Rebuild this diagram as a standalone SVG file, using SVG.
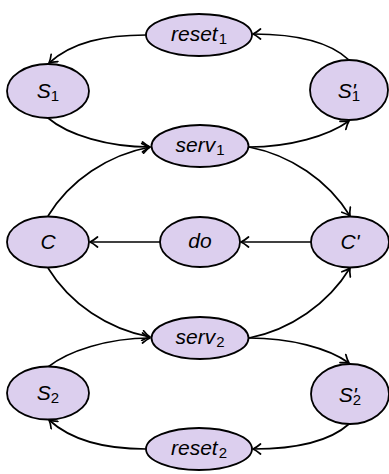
<svg xmlns="http://www.w3.org/2000/svg" width="389" height="474" viewBox="0 0 389 474">
<defs>
<style>
.n{fill:#dccfee;stroke:#000;stroke-width:1.8}
.e{fill:none;stroke:#000;stroke-width:1.7;marker-end:url(#arr)}
.t{font-family:"Liberation Sans","DejaVu Sans",sans-serif;font-style:italic;font-size:21px;text-anchor:middle;fill:#000}
.s{font-style:normal;font-size:15px}
</style>
<marker id="arr" viewBox="-9 -6 11 12" refX="0" refY="0" markerWidth="11" markerHeight="12" markerUnits="userSpaceOnUse" orient="auto">
<path d="M-7.5,-5 Q-3,-1.2 0,0 Q-3,1.2 -7.5,5" fill="none" stroke="#000" stroke-width="1.7" stroke-linecap="round" stroke-linejoin="round"/>
</marker>
</defs>
<g id="connectors">
<path class="e" d="M146,35 C105,35 72,42 49,63"/>
<path class="e" d="M349,60 C330,42 298,34 253,34"/>
<path class="e" d="M48,118 C68,135 108,147 150,147"/>
<path class="e" d="M249,147 C290,147 328,136 349,121"/>
<path class="e" d="M48,216 C70,180 108,155 150,147"/>
<path class="e" d="M249,147 C290,155 328,180 350,216"/>
<path class="e" d="M311,242 L241,242"/>
<path class="e" d="M160,242 L90,242"/>
<path class="e" d="M48,268 C70,304 108,329 150,337"/>
<path class="e" d="M249,338 C290,330 328,304 350,268"/>
<path class="e" d="M48,367 C68,351 108,338 150,338"/>
<path class="e" d="M249,338 C290,338 328,348 349,363"/>
<path class="e" d="M349,424 C330,441 298,449 253,449"/>
<path class="e" d="M146,449 C105,449 72,441 49,420"/>
</g>
<g id="reset1"><ellipse class="n" cx="199" cy="35" rx="53" ry="21"/><text class="t" x="199" y="41">reset<tspan class="s" dx="1" dy="3">1</tspan></text></g>
<g id="S1"><ellipse class="n" cx="48" cy="91" rx="41" ry="27"/><text class="t" x="48" y="98">S<tspan class="s" dy="3">1</tspan></text></g>
<g id="S1p"><ellipse class="n" cx="349" cy="90" rx="39" ry="30"/><text class="t" x="349" y="98">S'<tspan class="s" dx="-4" dy="3">1</tspan></text></g>
<g id="serv1"><ellipse class="n" cx="200" cy="146" rx="48.5" ry="21"/><text class="t" x="200" y="152">serv<tspan class="s" dx="1" dy="3">1</tspan></text></g>
<g id="C"><ellipse class="n" cx="48" cy="242" rx="41" ry="25.5"/><text class="t" x="48" y="249">C</text></g>
<g id="do"><ellipse class="n" cx="200" cy="242" rx="40" ry="25"/><text class="t" x="200" y="248">do</text></g>
<g id="Cp"><ellipse class="n" cx="350" cy="242" rx="39" ry="25.5"/><text class="t" x="350" y="249">C'</text></g>
<g id="serv2"><ellipse class="n" cx="200" cy="338" rx="48.5" ry="21"/><text class="t" x="200" y="344">serv<tspan class="s" dx="1" dy="3">2</tspan></text></g>
<g id="S2"><ellipse class="n" cx="48" cy="393" rx="41" ry="26.5"/><text class="t" x="48" y="400">S<tspan class="s" dy="3">2</tspan></text></g>
<g id="S2p"><ellipse class="n" cx="350" cy="394" rx="39" ry="30"/><text class="t" x="350" y="402">S'<tspan class="s" dx="-4" dy="3">2</tspan></text></g>
<g id="reset2"><ellipse class="n" cx="199" cy="449" rx="53" ry="21"/><text class="t" x="199" y="455">reset<tspan class="s" dx="1" dy="3">2</tspan></text></g>
</svg>
